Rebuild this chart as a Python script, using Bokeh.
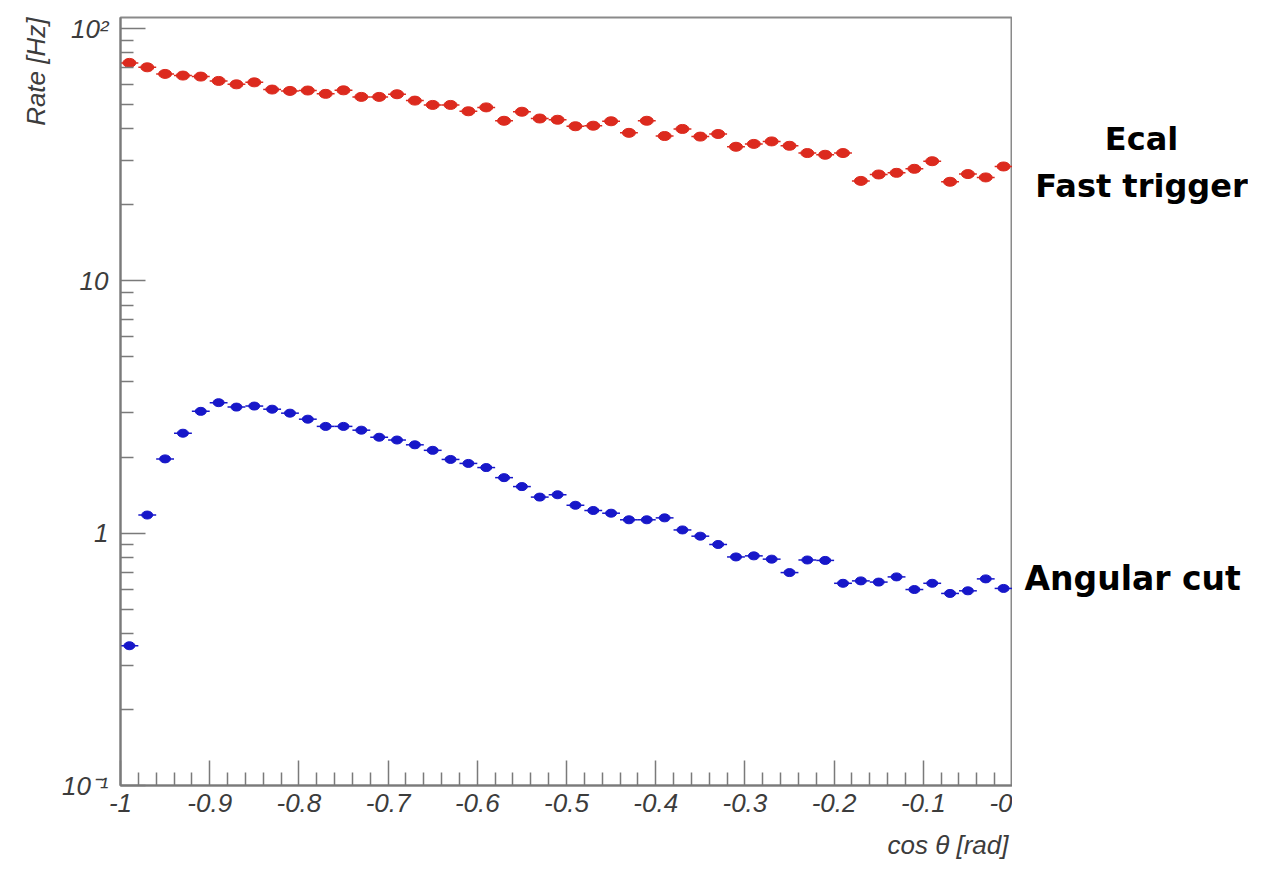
from bokeh.plotting import figure
from bokeh.models import Range1d, FixedTicker, ColumnDataSource, Title
from bokeh.layouts import row
from bokeh.core.properties import value
from bokeh.embed import file_html
from bokeh.resources import INLINE

# ---------------- data ----------------
bin_centers = [-0.99, -0.97, -0.95, -0.93, -0.91, -0.89, -0.87, -0.85, -0.83, -0.81,
               -0.79, -0.77, -0.75, -0.73, -0.71, -0.69, -0.67, -0.65, -0.63, -0.61,
               -0.59, -0.57, -0.55, -0.53, -0.51, -0.49, -0.47, -0.45, -0.43, -0.41,
               -0.39, -0.37, -0.35, -0.33, -0.31, -0.29, -0.27, -0.25, -0.23, -0.21,
               -0.19, -0.17, -0.15, -0.13, -0.11, -0.09, -0.07, -0.05, -0.03, -0.01]
bin_half_width = 0.01

ecal_rate = [73.1, 70.2, 66.1, 65.1, 64.5, 62.0, 60.1, 61.2, 57.3, 56.6,
             56.8, 55.1, 56.9, 53.6, 53.6, 54.9, 51.8, 49.8, 49.8, 47.0,
             48.7, 43.1, 46.8, 44.0, 43.5, 41.0, 41.2, 42.9, 38.6, 43.1,
             37.5, 40.0, 37.3, 38.2, 34.0, 34.9, 35.7, 34.3, 32.1, 31.6,
             32.1, 24.9, 26.4, 26.8, 27.8, 29.8, 24.7, 26.5, 25.7, 28.4]

angular_rate = [0.358, 1.18, 1.97, 2.49, 3.04, 3.29, 3.16, 3.19, 3.10, 2.99,
                2.83, 2.65, 2.65, 2.56, 2.40, 2.34, 2.24, 2.13, 1.96, 1.89,
                1.82, 1.66, 1.53, 1.39, 1.42, 1.29, 1.23, 1.20, 1.13, 1.13,
                1.15, 1.03, 0.973, 0.902, 0.805, 0.813, 0.789, 0.698, 0.783, 0.780,
                0.633, 0.647, 0.640, 0.671, 0.598, 0.633, 0.577, 0.591, 0.659, 0.604]

series_names = ["Ecal", "Fast trigger", "Angular cut"]

x_ticks = [-1.0, -0.9, -0.8, -0.7, -0.6, -0.5, -0.4, -0.3, -0.2, -0.1, 0.0]
x_tick_labels = ["-1", "-0.9", "-0.8", "-0.7", "-0.6", "-0.5", "-0.4", "-0.3", "-0.2", "-0.1", "-0"]
y_ticks = [0.1, 1.0, 10.0, 100.0]
y_tick_labels = ["10\u207b\u00b9", "1", "10", "10\u00b2"]

x_title = "cos \u03b8 [rad]"
y_title = "Rate [Hz]"

# ---------------- style ----------------
RED = "#dc2a1e"
BLUE = "#1717c9"
AXIS = "#7a7a7a"
TEXT = "#3c3c3c"

y_range = Range1d(0.1, 110.6)

p = figure(frame_width=892, frame_height=768,
           x_range=Range1d(-1, 0), y_range=y_range,
           y_axis_type="log", output_backend="svg", toolbar_location=None,
           min_border_left=120, min_border_right=0,
           min_border_top=17, min_border_bottom=70)
p.background_fill_color = "white"
p.border_fill_color = "white"
p.outline_line_color = "#8a8a8a"
p.outline_line_width = 2
p.xgrid.visible = False
p.ygrid.visible = False

# minor ticks
x_minor = []
for i in range(len(x_ticks) - 1):
    for k in range(1, 5):
        x_minor.append(x_ticks[i] + k * 0.02)
y_minor = []
for dec in y_ticks[:-1]:
    for m in range(2, 10):
        y_minor.append(dec * m)

p.xaxis.ticker = FixedTicker(ticks=x_ticks, minor_ticks=x_minor)
p.yaxis.ticker = FixedTicker(ticks=y_ticks, minor_ticks=y_minor)
p.xaxis.major_label_overrides = {t: l for t, l in zip(x_ticks, x_tick_labels)}
p.yaxis.major_label_overrides = {t: l for t, l in zip(y_ticks, y_tick_labels)}

for ax in (p.xaxis[0], p.yaxis[0]):
    ax.axis_line_color = AXIS
    ax.axis_line_width = 2
    ax.major_tick_line_color = AXIS
    ax.minor_tick_line_color = AXIS
    ax.major_tick_line_width = 1.5
    ax.minor_tick_line_width = 1.5
    ax.major_tick_out = 0
    ax.minor_tick_out = 0
    ax.major_tick_in = 25
    ax.minor_tick_in = 13
    ax.major_label_text_font = "Liberation Sans"
    ax.major_label_text_font_style = "italic"
    ax.major_label_text_font_size = "26px"
    ax.major_label_text_color = TEXT
p.xaxis.major_label_standoff = 8
p.yaxis.major_label_standoff = 12

# axis titles (right / top aligned, like ROOT)
p.add_layout(Title(text=x_title, align="right", text_font="Liberation Sans",
                   text_font_style="italic", text_font_size="26px",
                   text_color=TEXT, standoff=26, offset=4), "below")
p.add_layout(Title(text=y_title, align="right", text_font="Liberation Sans",
                   text_font_style="italic", text_font_size="26px",
                   text_color=TEXT, standoff=16, offset=0), "left")

# ---------------- data marks ----------------
red_src = ColumnDataSource(dict(x=bin_centers, y=ecal_rate,
                                x0=[c - bin_half_width for c in bin_centers],
                                x1=[c + bin_half_width for c in bin_centers]))
blue_src = ColumnDataSource(dict(x=bin_centers, y=angular_rate,
                                 x0=[c - bin_half_width for c in bin_centers],
                                 x1=[c + bin_half_width for c in bin_centers]))

p.segment(x0="x0", x1="x1", y0="y", y1="y", source=red_src, line_color=RED, line_width=1.5)
p.ellipse(x="x", y="y", width=13, height=9, width_units="screen", height_units="screen",
          source=red_src, fill_color=RED, line_color=RED)
p.segment(x0="x0", x1="x1", y0="y", y1="y", source=blue_src, line_color=BLUE, line_width=1.5)
p.ellipse(x="x", y="y", width=11, height=8, width_units="screen", height_units="screen",
          source=blue_src, fill_color=BLUE, line_color=BLUE)

# ---------------- side panel with series names ----------------
side = figure(frame_width=236, frame_height=768, x_range=Range1d(0, 236), y_range=y_range,
              y_axis_type="log", output_backend="svg", toolbar_location=None,
              x_axis_location=None, y_axis_location=None,
              min_border_left=0, min_border_right=0,
              min_border_top=17, min_border_bottom=70)
side.outline_line_color = None
side.xgrid.visible = False
side.ygrid.visible = False
side.background_fill_color = "white"
side.border_fill_color = "white"

name_style = dict(text_font=value("DejaVu Sans"), text_font_style="bold",
                  text_color="black", text_baseline="alphabetic")
side.text(x=[129, 129], y=[36.4, 23.75], text=series_names[:2], text_align="center",
          text_font_size="32px", **name_style)
side.text(x=[12], y=[0.663], text=series_names[2:], text_align="left",
          text_font_size="33px", **name_style)

layout = row(p, side)
open("out.html", "w").write(file_html(layout, INLINE))
